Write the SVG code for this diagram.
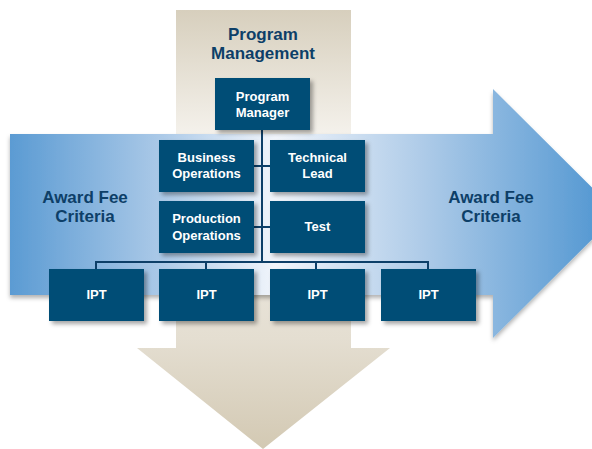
<svg xmlns="http://www.w3.org/2000/svg" width="592" height="449" viewBox="0 0 592 449">
<defs>
<linearGradient id="beige" gradientUnits="userSpaceOnUse" x1="0" y1="10" x2="0" y2="449">
<stop offset="0" stop-color="#d7cfbd"/>
<stop offset="0.28" stop-color="#f4f1eb"/>
<stop offset="0.75" stop-color="#e4ded1"/>
<stop offset="1" stop-color="#d3c9b3"/>
</linearGradient>
<linearGradient id="blue" gradientUnits="userSpaceOnUse" x1="10" y1="0" x2="600" y2="0">
<stop offset="0" stop-color="#5b9bd3"/>
<stop offset="0.25" stop-color="#a9c8e7"/>
<stop offset="0.45" stop-color="#f1f5fb"/>
<stop offset="0.7" stop-color="#aecbe8"/>
<stop offset="1" stop-color="#5498d2"/>
</linearGradient>
<filter id="sh" x="-20%" y="-20%" width="140%" height="150%">
<feDropShadow dx="3" dy="3" stdDeviation="2" flood-color="#000" flood-opacity="0.35"/>
</filter>
<filter id="ash" x="-5%" y="-5%" width="110%" height="115%">
<feDropShadow dx="0" dy="3" stdDeviation="2" flood-color="#000" flood-opacity="0.3"/>
</filter>
</defs>
<style>
.box{fill:#034d76;filter:url(#sh)}
.bt{fill:#fff;font-family:"Liberation Sans",Arial,sans-serif;font-weight:bold;font-size:13px;text-anchor:middle}
.ht{fill:#0d3f68;font-family:"Liberation Sans",Arial,sans-serif;font-weight:bold;font-size:17px;text-anchor:middle}
.ln{stroke:#0d3f68;stroke-width:2;fill:none}
</style>
<g id="down-arrow">
<polygon points="176,10 351,10 351,348 390,348 263,449 137,348 176,348" fill="url(#beige)"/>
</g>
<g id="right-arrow">
<polygon points="10,134 493,134 493,89 618,213.5 493,338 493,295 10,295" fill="url(#blue)" filter="url(#ash)"/>
</g>
<g id="title">
<text class="ht" x="263" y="40">Program</text>
<text class="ht" x="263" y="59">Management</text>
</g>
<g id="afc-left">
<text class="ht" x="85" y="203">Award Fee</text>
<text class="ht" x="85" y="222">Criteria</text>
</g>
<g id="afc-right">
<text class="ht" x="491" y="203">Award Fee</text>
<text class="ht" x="491" y="222">Criteria</text>
</g>
<g id="connectors">
<path class="ln" d="M262,130 V262 M254,166 H270 M254,227 H270 M96,262 H428 M96,261 V269 M206,261 V269 M316,261 V269 M428,261 V269"/>
</g>
<g id="program-manager">
<rect class="box" x="215" y="78" width="95" height="52"/>
<text class="bt" x="262.5" y="101">Program</text>
<text class="bt" x="262.5" y="117">Manager</text>
</g>
<g id="business-operations">
<rect class="box" x="159" y="140" width="95" height="52"/>
<text class="bt" x="206.5" y="162">Business</text>
<text class="bt" x="206.5" y="178">Operations</text>
</g>
<g id="technical-lead">
<rect class="box" x="270" y="140" width="95" height="52"/>
<text class="bt" x="317.5" y="162">Technical</text>
<text class="bt" x="317.5" y="178">Lead</text>
</g>
<g id="production-operations">
<rect class="box" x="159" y="201" width="95" height="52"/>
<text class="bt" x="206.5" y="223">Production</text>
<text class="bt" x="206.5" y="240">Operations</text>
</g>
<g id="test">
<rect class="box" x="270" y="201" width="95" height="52"/>
<text class="bt" x="317.5" y="231">Test</text>
</g>
<g id="ipt1">
<rect class="box" x="49" y="269" width="95" height="52"/>
<text class="bt" x="96.5" y="299">IPT</text>
</g>
<g id="ipt2">
<rect class="box" x="159" y="269" width="95" height="52"/>
<text class="bt" x="206.5" y="299">IPT</text>
</g>
<g id="ipt3">
<rect class="box" x="270" y="269" width="95" height="52"/>
<text class="bt" x="317.5" y="299">IPT</text>
</g>
<g id="ipt4">
<rect class="box" x="381" y="269" width="95" height="52"/>
<text class="bt" x="428.5" y="299">IPT</text>
</g>
</svg>
